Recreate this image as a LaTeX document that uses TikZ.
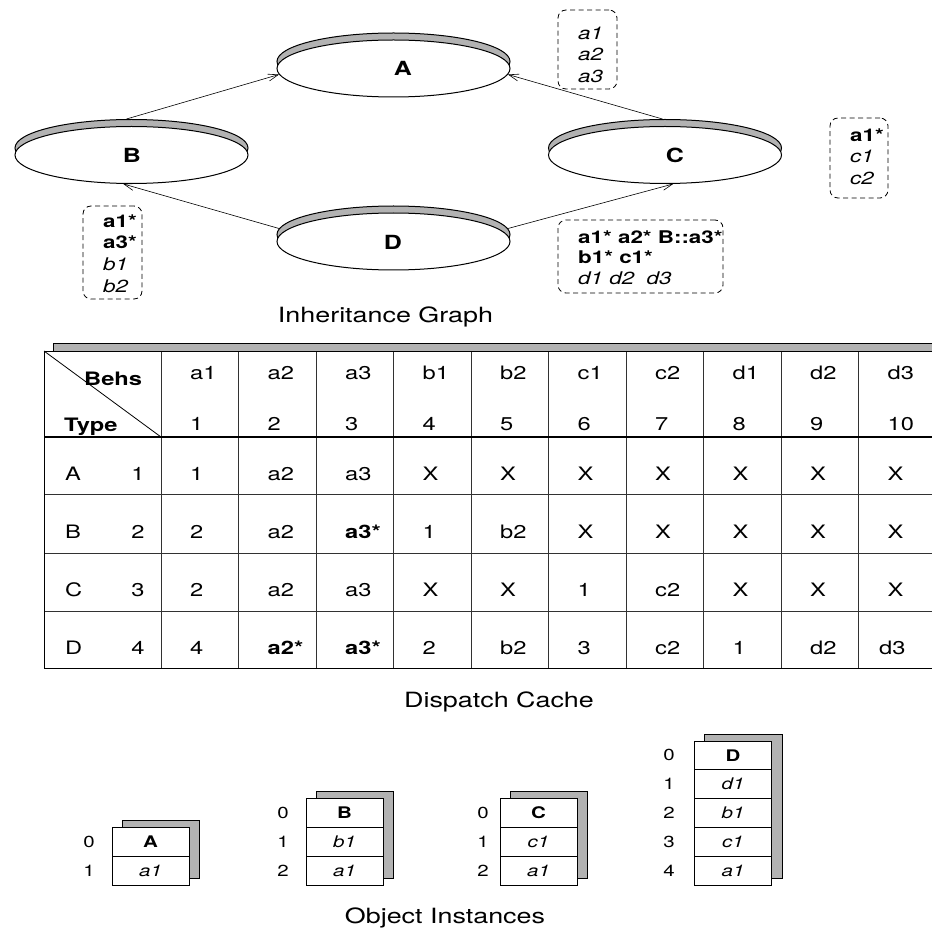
\documentclass[tikz,border=0pt]{standalone}
\usepackage{fontspec}
\setmainfont{TeX Gyre Heros}[FakeStretch=1.28]
\usetikzlibrary{shapes.geometric,arrows.meta}
\definecolor{shadegray}{RGB}{178,178,178}
\definecolor{gridgray}{RGB}{50,50,50}
\newcommand{\setfs}[1]{\fontsize{#1}{#1}\selectfont}

\begin{document}
\begin{tikzpicture}[x=1pt,y=-1pt,
    cls/.style={ellipse,draw,line width=1pt,fill=white,minimum width=233pt,minimum height=57pt,inner sep=0pt},
    clsshade/.style={cls,fill=shadegray},
    clslabel/.style={inner sep=0pt,font=\setfs{19.5}\bfseries},
    inherit/.style={-{Straight Barb[length=10pt,width=7pt]},line width=0.6pt},
    defbox/.style={draw,dash pattern=on 5pt off 3.5pt,rounded corners=8pt,line width=0.8pt,inner sep=0pt},
    deftext/.style={anchor=base west,inner sep=0pt,font=\setfs{17.5}},
    caption/.style={anchor=base,inner sep=0pt,font=\setfs{21}},
    cell/.style={anchor=base west,inner sep=0pt,font=\setfs{18.5}},
    slot/.style={draw,fill=white,line width=0.7pt,minimum width=77pt,minimum height=28.8pt,inner sep=0pt,font=\setfs{16}},
    slotidx/.style={inner sep=0pt,font=\setfs{16}},
    instshade/.style={draw,fill=shadegray,line width=0.7pt}]

    \useasboundingbox (0,0) rectangle (932,928);
    \clip (0,0) rectangle (932,928);

    % Inheritance graph: classes as raised discs
    \node[clsshade] (Ash) at (393.5,61.5) {};
    \node[cls] (A) at (393.5,68.5) {};
    \node[clsshade] (Bsh) at (131.5,148) {};
    \node[cls] (B) at (131.5,155) {};
    \node[clsshade] (Csh) at (665,148) {};
    \node[cls] (C) at (665,155) {};
    \node[clsshade] (Dsh) at (393.5,234.5) {};
    \node[cls] (D) at (393.5,241.5) {};

    \node[clslabel] (Alabel) at (403,68) {A};
    \node[clslabel] (Blabel) at (132,155) {B};
    \node[clslabel] (Clabel) at (675,155) {C};
    \node[clslabel] (Dlabel) at (393,242) {D};

    \draw[inherit] (Bsh.100) -- (A.183);
    \draw[inherit] (Csh.95) -- (A.357);
    \draw[inherit] (Dsh.177) -- (B.254);
    \draw[inherit] (Dsh.3) -- (C.286);

    % behaviours defined by each class
    \node[defbox,minimum width=59pt,minimum height=79pt] (Adefs) at (587.5,49.5) {};
    \foreach \txt [count=\i] in {\textit{a1},\textit{a2},\textit{a3}}
        \node[deftext] (Adef\i) at (578,18+21.5*\i) {\txt};

    \node[defbox,minimum width=58pt,minimum height=80pt] (Cdefs) at (859,158) {};
    \foreach \txt [count=\i] in {\textbf{a1*},\textit{c1},\textit{c2}}
        \node[deftext] (Cdef\i) at (850,120+21.5*\i) {\txt};

    \node[defbox,minimum width=165pt,minimum height=73pt] (Ddefs) at (640.5,256.5) {};
    \foreach \txt [count=\i] in {\textbf{a1* a2* B::a3*},\textbf{b1* c1*},\textit{d1 d2~~d3}}
        \node[deftext] (Ddef\i) at (578,223+20.5*\i) {\txt};

    \node[defbox,minimum width=59pt,minimum height=93pt] (Bdefs) at (112.5,252.5) {};
    \foreach \txt [count=\i] in {\textbf{a1*},\textbf{a3*},\textit{b1},\textit{b2}}
        \node[deftext] (Bdef\i) at (103,206+21.5*\i) {\txt};

    \node[caption] (graphcap) at (385.5,322) {Inheritance Graph};

    % Dispatch cache table
    \draw[fill=shadegray,line width=0.9pt] (53,343) rectangle (945,351);
    \fill[white] (44,351) rectangle (945,668);
    \foreach \y in {494,553,611}
        \draw[gridgray,line width=0.7pt] (44,\y) -- (945,\y);
    \foreach \k in {0,...,9}
        \draw[gridgray,line width=0.8pt] (161+77.5*\k,351) -- (161+77.5*\k,668);
    \draw[line width=1pt] (945,351) -- (44,351) -- (44,668) -- (945,668);
    \draw[line width=1.7pt] (44,437) -- (945,437);
    \draw[line width=0.8pt] (44,351) -- (161,437);

    \node[cell,font=\setfs{18.5}\bfseries] (behs) at (84,385.7) {Behs};
    \node[cell,font=\setfs{18.5}\bfseries] (type) at (64,431.7) {Type};
    \foreach \b [count=\k] in {a1,a2,a3,b1,b2,c1,c2,d1,d2,d3} {
        \node[cell] (beh-\k) at (112.5+77.5*\k,379) {\b};
        \node[cell] (num-\k) at (112.5+77.5*\k,430) {\k};
    }

    \foreach \t/\n/\y in {A/1/480,B/2/538,C/3/596,D/4/654} {
        \node[cell] (type-\t) at (65,\y) {\t};
        \node[cell,anchor=base] (tnum-\t) at (138,\y) {\n};
    }
    \foreach \v [count=\k] in {1,a2,a3,X,X,X,X,X,X,X}
        \node[cell] (A-\k) at (112.5+77.5*\k,480) {\v};
    \foreach \v [count=\k] in {2,a2,\textbf{a3*},1,b2,X,X,X,X,X}
        \node[cell] (B-\k) at (112.5+77.5*\k,538) {\v};
    \foreach \v [count=\k] in {2,a2,a3,X,X,1,c2,X,X,X}
        \node[cell] (C-\k) at (112.5+77.5*\k,596) {\v};
    \foreach \v [count=\k] in {4,\textbf{a2*},\textbf{a3*},2,b2,3,c2,1,d2}
        \node[cell] (D-\k) at (112.5+77.5*\k,654) {\v};
    \node[cell] (D-10) at (879,654) {d3};

    \node[caption] (cachecap) at (499,707) {Dispatch Cache};

    % Object instances with their slots
    \draw[instshade] (122,820) rectangle (199,878);
    \foreach \s [count=\i from 0] in {\textbf{A},\textit{a1}} {
        \node[slot] (objA-\i) at (150.5,841.8+28.8*\i) {\s};
        \node[slotidx] (idxA-\i) at (89,841.8+28.8*\i) {\i};
    }
    \draw[instshade] (316,791.6) rectangle (393,878);
    \foreach \s [count=\i from 0] in {\textbf{B},\textit{b1},\textit{a1}} {
        \node[slot] (objB-\i) at (344.5,813+28.8*\i) {\s};
        \node[slotidx] (idxB-\i) at (283,813+28.8*\i) {\i};
    }
    \draw[instshade] (510,791.6) rectangle (587,878);
    \foreach \s [count=\i from 0] in {\textbf{C},\textit{c1},\textit{a1}} {
        \node[slot] (objC-\i) at (538.5,813+28.8*\i) {\s};
        \node[slotidx] (idxC-\i) at (483,813+28.8*\i) {\i};
    }
    \draw[instshade] (704,734) rectangle (782,878);
    \foreach \s [count=\i from 0] in {\textbf{D},\textit{d1},\textit{b1},\textit{c1},\textit{a1}} {
        \node[slot] (objD-\i) at (733,755.4+28.8*\i) {\s};
        \node[slotidx] (idxD-\i) at (669,755.4+28.8*\i) {\i};
    }

    \node[caption] (instcap) at (445,923) {Object Instances};
\end{tikzpicture}
\end{document}
